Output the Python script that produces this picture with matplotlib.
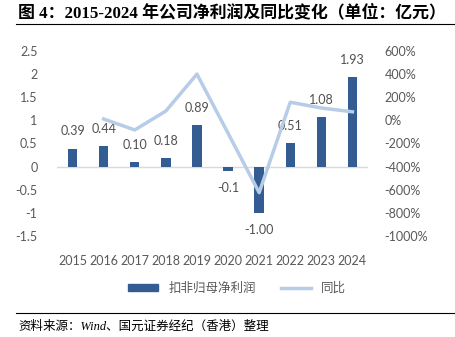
import matplotlib
matplotlib.use("Agg")
import matplotlib.pyplot as plt
import numpy as np
from matplotlib.lines import Line2D

plt.rcParams["font.family"] = ["Lato", "Noto Sans CJK SC", "DejaVu Sans"]

years = ["2015", "2016", "2017", "2018", "2019", "2020", "2021", "2022", "2023", "2024"]
profit = [0.39, 0.44, 0.10, 0.18, 0.89, -0.10, -1.00, 0.51, 1.08, 1.93]
profit_labels = ["0.39", "0.44", "0.10", "0.18", "0.89", "-0.1", "-1.00", "0.51", "1.08", "1.93"]
growth = [np.nan, 12, -83, 81, 400, -111, -625, 157, 107, 74]

left_ticks = [2.5, 2, 1.5, 1, 0.5, 0, -0.5, -1, -1.5]
left_tick_labels = ["2.5", "2", "1.5", "1", "0.5", "0", "-0.5", "-1", "-1.5"]
right_ticks = [600, 400, 200, 0, -200, -400, -600, -800, -1000]

BAR_COLOR = "#335D92"
LINE_COLOR = "#B7CCE6"
TEXT_COLOR = "#595959"

fig = plt.figure(figsize=(4.56, 3.37), dpi=100)
ax = fig.add_axes([57 / 456, 1 - 236 / 337, 311 / 456, 185 / 337])
x = np.arange(len(years))

ax.bar(x, profit, width=0.3, color=BAR_COLOR, zorder=2)
ax.axhline(0, color="#D9D9D9", linewidth=1.0, zorder=1)
ax.set_xlim(-0.5, len(years) - 0.5)
ax.set_ylim(-1.5, 2.5)
ax.set_yticks(left_ticks)
ax.set_yticklabels(left_tick_labels)
ax.set_xticks(x)
ax.set_xticklabels(years)
for spine in ax.spines.values():
    spine.set_visible(False)
ax.tick_params(axis="both", length=0, labelsize=9, colors=TEXT_COLOR)
ax.tick_params(axis="x", pad=14)
ax.tick_params(axis="y", pad=14)

for xi, value, label in zip(x, profit, profit_labels):
    if value >= 0:
        ax.annotate(label, (xi, value), xytext=(0, 8), textcoords="offset points",
                    ha="center", va="bottom", fontsize=9, color="#505050")
    else:
        ax.annotate(label, (xi, value), xytext=(0, -8), textcoords="offset points",
                    ha="center", va="top", fontsize=9, color="#505050")

ax2 = ax.twinx()
ax2.plot(x, growth, color=LINE_COLOR, linewidth=2.5, zorder=3)
ax2.set_ylim(-1000, 600)
ax2.set_yticks(right_ticks)
ax2.set_yticklabels([f"{v}%" for v in right_ticks])
for spine in ax2.spines.values():
    spine.set_visible(False)
ax2.tick_params(axis="y", length=0, labelsize=9, colors=TEXT_COLOR, pad=12)

handles = [
    plt.Rectangle((0, 0), 1, 1, color=BAR_COLOR),
    Line2D([0], [0], color=LINE_COLOR, linewidth=2.5),
]
fig.legend(handles, ["扣非归母净利润", "同比"], loc="center",
           bbox_to_anchor=(0.52, 1 - 288 / 337), ncol=2, frameon=False,
           handlelength=2.4, handleheight=0.5, columnspacing=2.0,
           prop={"family": ["Noto Sans CJK SC"], "size": 9}, labelcolor=TEXT_COLOR)

fig.text(18 / 456, 1 - 13 / 337, "图 4：2015-2024 年公司净利润及同比变化（单位：亿元）",
         fontsize=12.2, fontweight="bold", va="center", ha="left",
         family=["Liberation Serif", "Noto Sans CJK SC"])
fig.add_artist(Line2D([16 / 456, 1], [1 - 24 / 337, 1 - 24 / 337], color="black", linewidth=0.8))
fig.add_artist(Line2D([16 / 456, 1], [1 - 313 / 337, 1 - 313 / 337], color="black", linewidth=0.8))
fig.text(18 / 456, 1 - 327 / 337, "资料来源：Wind、国元证券经纪（香港）整理",
         fontsize=9, style="italic", va="center", ha="left",
         family=["Liberation Serif", "Noto Sans CJK SC"])

fig.savefig("out.png", dpi=100)
